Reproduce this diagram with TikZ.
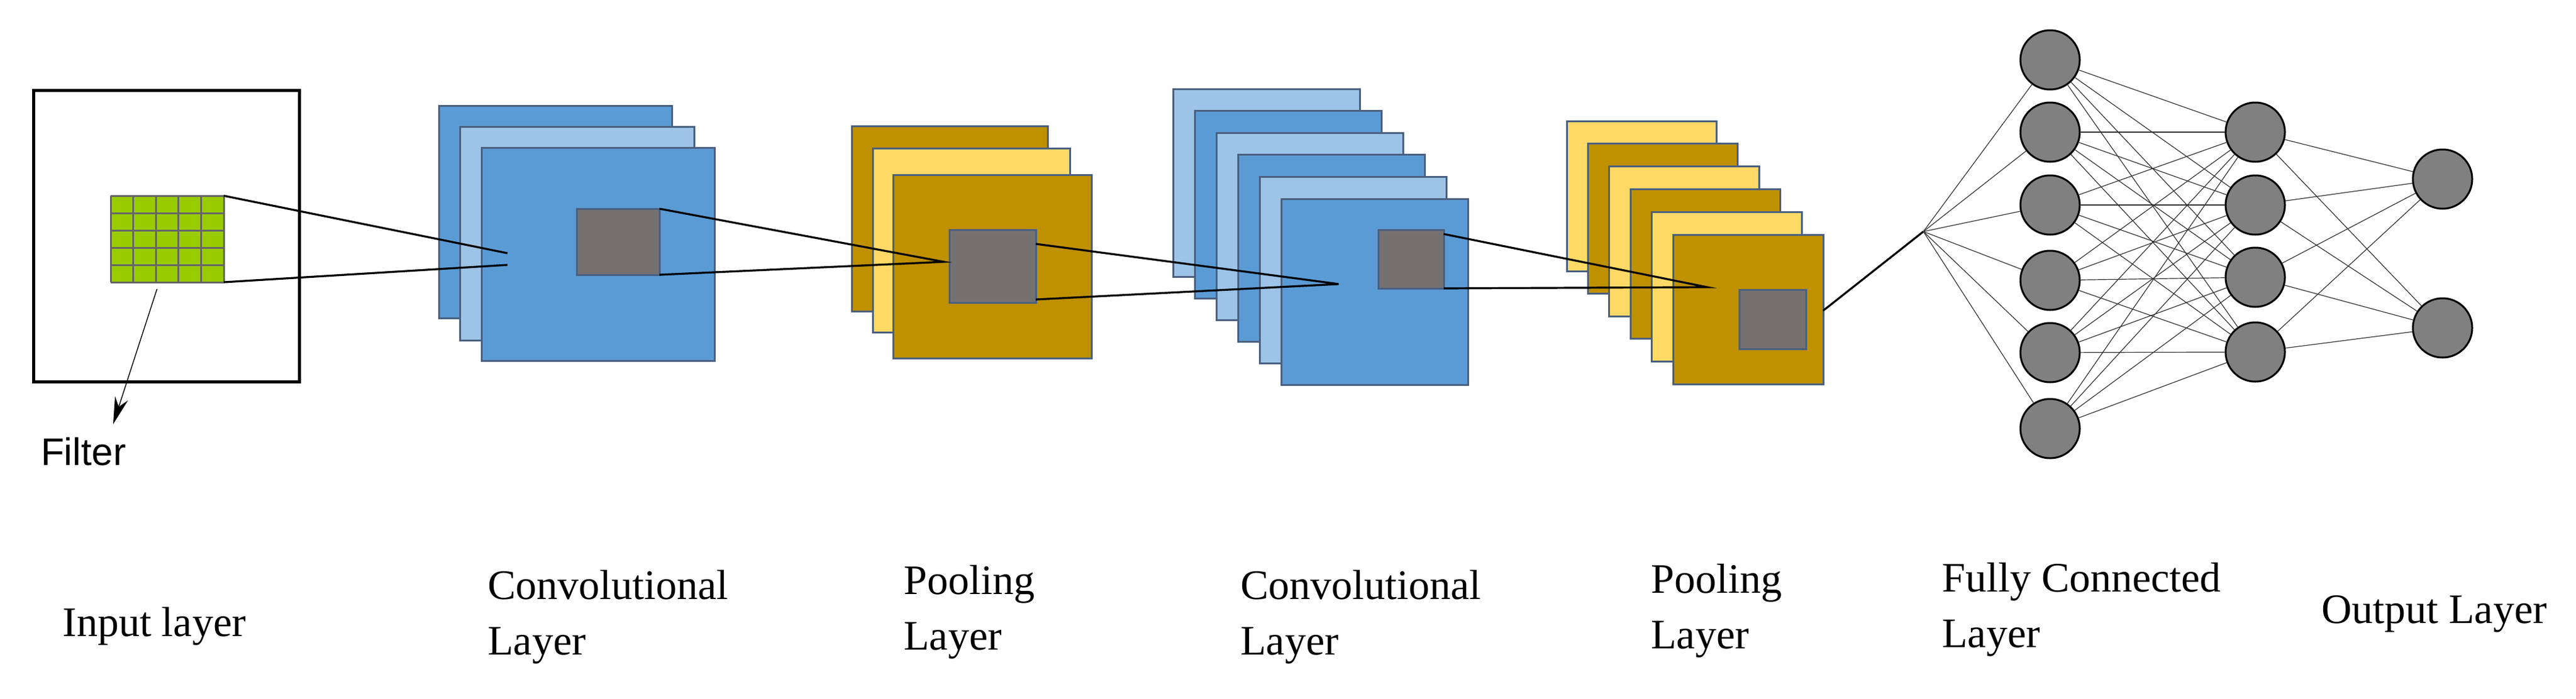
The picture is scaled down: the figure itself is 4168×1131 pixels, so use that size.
\documentclass[tikz,border=0pt]{standalone}
\usepackage{fontspec}
\setmainfont{Liberation Serif}
\newfontfamily\sansf{Liberation Sans}
\usetikzlibrary{arrows.meta}
\definecolor{dblue}{HTML}{5B9BD5}
\definecolor{lblue}{HTML}{9DC3E6}
\definecolor{dgold}{HTML}{BF9000}
\definecolor{lgold}{HTML}{FFD966}
\definecolor{sq}{HTML}{767171}
\definecolor{edge}{HTML}{4A6080}
\definecolor{grn}{HTML}{99CC00}
\definecolor{neu}{HTML}{808080}
\tikzset{
  sheet/.style={draw=edge,line width=1.5pt},
  grey/.style={draw=edge,line width=1.5pt,fill=sq},
  conn/.style={black,line width=1.6pt},
  nn/.style={draw=black,line width=1.5pt,fill=neu,circle,minimum size=48pt,inner sep=0pt},
  nnl/.style={black!80,line width=0.6pt},
  lbl/.style={font=\fontsize{34}{40}\selectfont,inner sep=0pt,anchor=base west}
}
\begin{document}
\begin{tikzpicture}[x=0.5pt,y=0.5pt]
\useasboundingbox (0,0) rectangle (4168,-1131);
% input
\draw[line width=2.5pt] (54,-146) rectangle (484,-618);
\fill[grn] (179,-317) rectangle (362,-457);
\foreach \i in {0,...,5}{
  \draw[black!60,line width=1.5pt] ({179+\i*36.6},-317) -- ({179+\i*36.6},-457);
  \draw[black!60,line width=1.5pt] (179,{-317-\i*28}) -- (362,{-317-\i*28});}
\coordinate (gtr) at (362,-317); \coordinate (gbr) at (362,-457);
\coordinate (fa) at (254,-468); \coordinate (fb) at (183,-687);
\draw[line width=0.7pt,-{Stealth[length=22pt,width=11pt]}] (fa) -- (fb);
\node[font=\sansf\fontsize{31}{36}\selectfont,inner sep=0pt] (filter) at (135,-731) {Filter};
% conv1
\draw[sheet,fill=dblue] (710,-171) rectangle (1087,-515);
\draw[sheet,fill=lblue] (744,-205) rectangle (1123,-551);
\draw[sheet,fill=dblue] (779,-239) rectangle (1156,-584);
% pool1
\draw[sheet,fill=dgold] (1378,-204) rectangle (1695,-504);
\draw[sheet,fill=lgold] (1412,-240) rectangle (1731,-538);
\draw[sheet,fill=dgold] (1445,-283) rectangle (1766,-580);
% conv2
\foreach \i/\c in {0/lblue,1/dblue,2/lblue,3/dblue,4/lblue,5/dblue}
  \draw[sheet,fill=\c] ({1898+35*\i},{-144-35.6*\i}) rectangle ({2200+35*\i},{-448-35*\i});
% pool2
\foreach \i/\c in {0/lgold,1/dgold,2/lgold,3/dgold,4/lgold,5/dgold}
  \draw[sheet,fill=\c] ({2535+34.4*\i},{-196-36.8*\i}) rectangle ({2777+34.6*\i},{-439-36.6*\i});
% grey squares
\draw[grey] (933,-338) rectangle (1067,-445);
\draw[grey] (1536,-372) rectangle (1676,-490);
\draw[grey] (2230,-372) rectangle (2336,-467);
\draw[grey] (2814,-469) rectangle (2922,-565);
% connectors
\coordinate (c1a) at (821,-410); \coordinate (c1b) at (821,-429);
\draw[conn] (gtr) -- (c1a); \draw[conn] (gbr) -- (c1b);
\coordinate (s1t) at (1067,-338); \coordinate (s1b) at (1067,-445);
\coordinate (p1) at (1527,-424);
\draw[conn] (s1t) -- (p1) -- (s1b);
\coordinate (s2t) at (1676,-395); \coordinate (s2b) at (1676,-485);
\coordinate (p2) at (2166,-460);
\draw[conn] (s2t) -- (p2) -- (s2b);
\coordinate (s3t) at (2336,-379); \coordinate (s3b) at (2336,-467);
\coordinate (p3) at (2762,-465);
\draw[conn] (s3t) -- (p3) -- (s3b);
\coordinate (s4) at (2950,-503); \coordinate (fan) at (3112,-375);
\draw[conn] (s4) -- (fan);
% network
\foreach \i/\y in {1/97,2/214,3/332,4/454,5/571,6/694} \node[nn] (a\i) at (3317,-\y) {};
\foreach \i/\y in {1/214,2/332,3/449,4/570} \node[nn] (b\i) at (3649,-\y) {};
\foreach \i/\y in {1/290,2/531} \node[nn] (c\i) at (3952,-\y) {};
\begin{scope}[on background layer/.style={}]
\foreach \i in {1,...,6} \draw[nnl] (fan) -- (a\i);
\foreach \i in {1,...,6} \foreach \j in {1,...,4} \draw[nnl] (a\i) -- (b\j);
\foreach \i in {1,...,4} \foreach \j in {1,2} \draw[nnl] (b\i) -- (c\j);
\end{scope}
% labels
\node[lbl] (l1) at (101,-1030) {Input layer};
\node[lbl] (l2a) at (789,-970) {Convolutional};
\node[lbl] (l2b) at (789,-1060) {Layer};
\node[lbl] (l3a) at (1462,-962) {Pooling};
\node[lbl] (l3b) at (1462,-1052) {Layer};
\node[lbl] (l4a) at (2007,-970) {Convolutional};
\node[lbl] (l4b) at (2007,-1060) {Layer};
\node[lbl] (l5a) at (2671,-960) {Pooling};
\node[lbl] (l5b) at (2671,-1050) {Layer};
\node[lbl] (l6a) at (3142,-958) {Fully Connected};
\node[lbl] (l6b) at (3142,-1048) {Layer};
\node[lbl] (l7) at (3756,-1009) {Output Layer};
\end{tikzpicture}
\end{document}
